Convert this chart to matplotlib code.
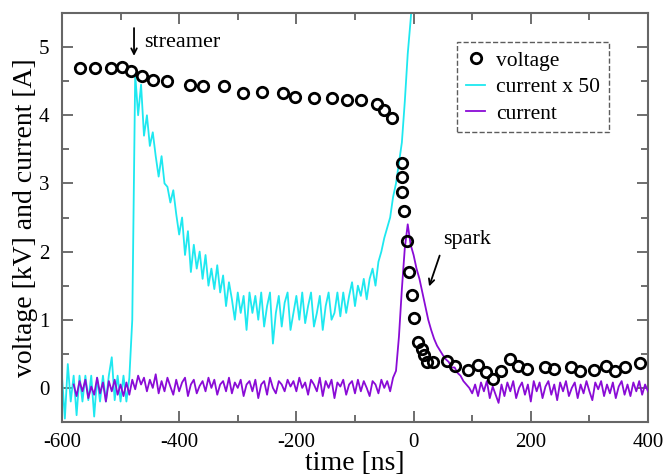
import numpy as np
import matplotlib
matplotlib.use("Agg")
import matplotlib.pyplot as plt
from matplotlib.ticker import MultipleLocator

# voltage (open circles)
volt_t = [-570, -544, -517, -497, -483, -464, -444, -420, -382, -359, -324, -291,
          -258, -223, -203, -170, -140, -113, -90, -63, -50, -37, -20, -20, -19,
          -16, -11, -8, -2, 1, 8, 13.8, 18.3, 22.4, 32.6, 56.5, 70.6, 92.3, 109.4,
          123, 136, 149, 164, 178, 193.5, 225, 240, 269, 284, 308, 328, 344, 360, 387]
volt_v = [4.70, 4.69, 4.69, 4.71, 4.65, 4.57, 4.51, 4.50, 4.44, 4.43, 4.43, 4.32,
          4.34, 4.32, 4.27, 4.25, 4.25, 4.23, 4.22, 4.16, 4.08, 3.96, 3.30, 3.09, 2.87,
          2.60, 2.16, 1.70, 1.37, 1.02, 0.67, 0.57, 0.48, 0.38, 0.38, 0.40, 0.32, 0.27, 0.34,
          0.23, 0.13, 0.25, 0.43, 0.32, 0.28, 0.30, 0.28, 0.30, 0.25, 0.26, 0.32, 0.25, 0.30, 0.36]

# current x 50, sampled every 5 ns from -600 ns
cyan_start, cyan_step = -600, 5
cyan_v = [0.18, -0.45, 0.35, -0.2, 0.18, -0.4, 0.18, -0.2, 0.18, -0.18, 0.18, -0.42,
          0.15, -0.2, 0.18, -0.2, 0.18, 0.45, -0.18, 0.18, -0.2, 0.18, -0.2, 0.15,
          1.0, 4.6,
          4.0, 4.45, 3.7, 4.0, 3.55, 3.75, 3.4, 3.1, 3.4, 3.0, 2.95, 2.72, 2.9, 2.55, 2.25,
          2.5, 1.95, 2.3, 1.7, 2.1, 1.75, 2.0, 1.6, 1.95, 1.5, 1.75, 1.45, 1.8, 1.4, 1.65,
          1.2, 1.55, 1.3, 1.0,
          1.4, 1.1, 1.35, 0.85, 1.4, 1.1, 1.35, 1.0, 1.4, 0.9,
          1.2, 1.4, 0.65, 1.1, 1.35, 0.9, 1.25, 1.4, 0.85, 1.1,
          1.35, 1.0, 1.4, 0.95, 1.2, 1.4, 0.9, 1.1, 1.35, 0.85,
          1.2, 1.4, 1.0, 1.1, 1.4, 1.05, 1.4, 1.1, 1.35, 1.55,
          1.2, 1.5, 1.35, 1.6, 1.3, 1.6, 1.75, 1.5, 1.85, 2.0, 2.2, 2.35, 2.5, 2.8,
          3.0, 3.3, 3.6, 4.2, 4.9, 5.4, 6.0]

# current, sampled every 5 ns from -580 ns
purple_start, purple_step = -580, 5
purple_v = [0.05, -0.12, 0.1, -0.05, 0.12, -0.15, 0.02, -0.1, 0.15, -0.08,
            0.08, -0.2, 0.1, -0.05, 0.12, -0.1, 0.05, -0.12, 0.08, -0.1,
            0.12, -0.02, 0.18, 0.05, 0.15, -0.05, 0.12, 0.0, 0.2, -0.08,
            0.1, -0.05, 0.15, 0.02, -0.1, 0.12, -0.05, 0.08, 0.15, -0.12,
            0.05, 0.12, -0.08, 0.03, 0.1, -0.05, 0.15, 0.0, 0.12, -0.1,
            0.05, 0.1, -0.05, 0.15, -0.08, 0.08, 0.0, 0.12, -0.12, 0.05,
            0.1, -0.05, 0.12, -0.15, 0.05, 0.1, -0.1, 0.15, 0.0, -0.08,
            0.1, 0.05, -0.05, 0.12, 0.02, 0.1, -0.05, 0.15, 0.0, 0.08,
            -0.1, 0.12, 0.05, -0.05, 0.15, -0.12, 0.1, 0.0, 0.12, -0.15,
            0.08, 0.02, 0.12, -0.1, 0.05, 0.1, -0.08, 0.12, -0.05, 0.1,
            0.0, -0.12, 0.1, 0.05, -0.08, 0.12, 0.0, 0.1, -0.05,
            0.15, 0.25, 0.75, 1.45, 2.05, 2.4, 2.1, 1.95, 1.75, 1.6, 1.4, 1.2, 1.0,
            0.85, 0.72, 0.62, 0.55, 0.48, 0.42, 0.38, 0.3, 0.3, 0.22, 0.18, 0.1, 0.05, 0.0,
            -0.08, 0.05, -0.12, 0.08, -0.05, 0.1, -0.15, 0.02, -0.1, -0.22,
            0.05, -0.12, 0.08, -0.05, 0.1, -0.15, 0.0, 0.08, -0.1, 0.05,
            -0.2, 0.1, -0.05, 0.08, -0.15, 0.02, 0.1, -0.1, 0.05, -0.18,
            0.08, -0.05, 0.1, -0.12, 0.0, 0.08, -0.15, 0.05, -0.08, 0.1,
            -0.05, -0.18, 0.08, -0.02, 0.1, -0.12, 0.05, -0.08, 0.08, -0.15,
            0.02, 0.1, -0.1, 0.05, -0.12, 0.08, -0.05, 0.1, -0.1, 0.05,
            -0.05]

cyan_t = cyan_start + cyan_step * np.arange(len(cyan_v))
purple_t = purple_start + purple_step * np.arange(len(purple_v))

plt.rcParams['font.family'] = 'Liberation Serif'
plt.rcParams['axes.unicode_minus'] = False
fig = plt.figure(figsize=(6.66, 4.75), dpi=100)
ax = fig.add_axes([0.093, 0.1116, 0.880, 0.861])

ax.plot(cyan_t, cyan_v, color='#1ee8f0', lw=1.3, label='current x 50', zorder=2)
ax.plot(purple_t, purple_v, color='#8a0bd6', lw=1.3, label='current', zorder=3)
ax.plot(volt_t, volt_v, 'o', mfc='none', mec='black', ms=7.5, mew=2,
        label='voltage', zorder=4)

ax.set_xlim(-600, 400)
ax.set_ylim(-0.5, 5.5)
ax.xaxis.set_major_locator(MultipleLocator(200))
ax.xaxis.set_minor_locator(MultipleLocator(100))
ax.yaxis.set_major_locator(MultipleLocator(1))
ax.yaxis.set_minor_locator(MultipleLocator(0.5))
ax.tick_params(which='both', direction='in', top=True, right=True,
               color='#555555', labelsize=15)
ax.tick_params(which='major', length=8, width=1.2)
ax.tick_params(which='minor', length=5, width=1.2)
ax.tick_params(axis='x', which='major', pad=8)
ax.tick_params(axis='y', which='major', pad=9)
for s in ax.spines.values():
    s.set_color('#666666')
    s.set_linewidth(1.5)

ax.set_xlabel('time [ns]', fontsize=20, labelpad=-1)
ax.set_ylabel('voltage [kV] and current [A]', fontsize=20, labelpad=1)

ax.annotate('', xy=(-477, 4.83), xytext=(-477, 5.32),
            arrowprops=dict(arrowstyle='->', color='black', lw=1.3))
ax.text(-460, 5.07, 'streamer', fontsize=16, va='center', ha='left')
ax.annotate('', xy=(25, 1.45), xytext=(46, 1.98),
            arrowprops=dict(arrowstyle='->', color='black', lw=1.3))
ax.text(51, 2.17, 'spark', fontsize=16, va='center', ha='left')

handles, labels = ax.get_legend_handles_labels()
order = [2, 0, 1]
leg = ax.legend([handles[i] for i in order], [labels[i] for i in order],
                loc='upper right', bbox_to_anchor=(0.933, 0.929), borderaxespad=0,
                fontsize=15.5, frameon=True, fancybox=False, borderpad=0.4,
                handlelength=0.9, labelspacing=0.3, handletextpad=0.5)
leg.get_frame().set_edgecolor('#333333')
leg.get_frame().set_linestyle('--')
leg.get_frame().set_linewidth(1.0)

fig.savefig('out.png', dpi=100)
